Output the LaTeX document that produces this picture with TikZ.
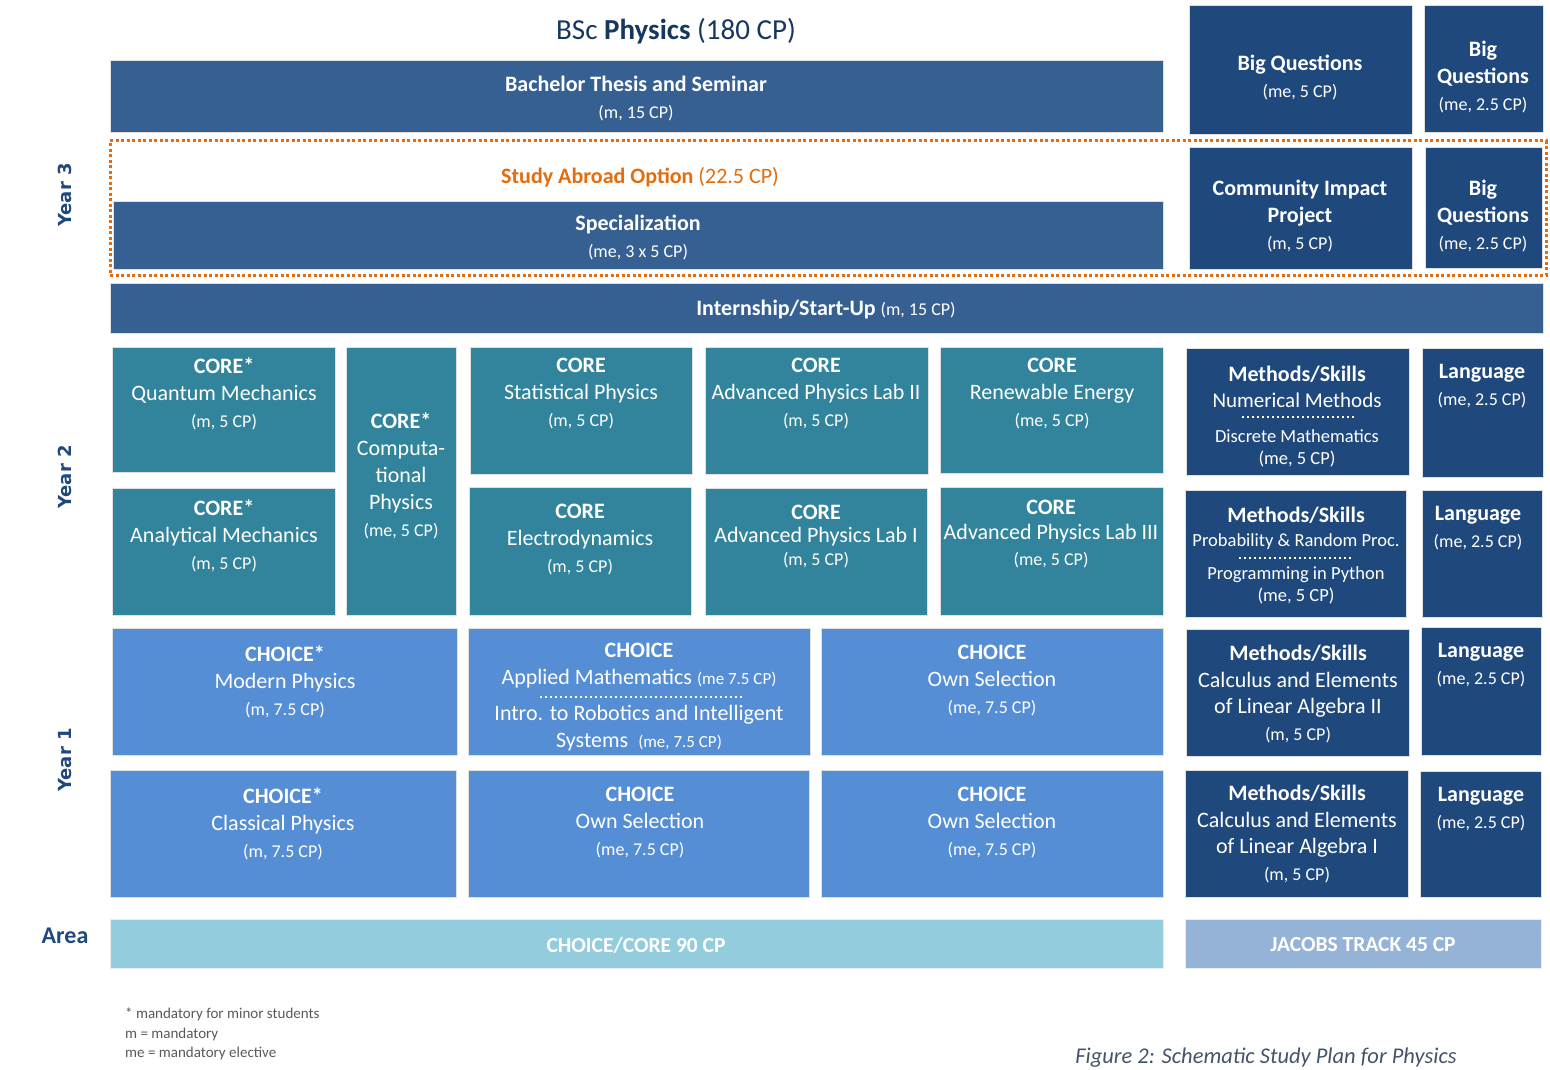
\documentclass[tikz,border=0pt]{standalone}
\usepackage{fontspec}
\setmainfont{Carlito}
\newfontfamily\yearfont{DejaVu Sans}
\usetikzlibrary{positioning}

\definecolor{midblue}{HTML}{376092}
\definecolor{darkblue}{HTML}{1F497D}
\definecolor{coreteal}{HTML}{31849B}
\definecolor{choiceblue}{HTML}{558ED5}
\definecolor{areateal}{HTML}{93CDDD}
\definecolor{areablue}{HTML}{95B3D7}
\definecolor{abroadorange}{HTML}{E46C0A}
\definecolor{titleblue}{HTML}{17375E}
\definecolor{notegray}{HTML}{595959}
\definecolor{captiongray}{HTML}{44546A}

\newcommand{\smallcp}[1]{{\fontsize{18}{27}\selectfont #1}}

\begin{document}
\begin{tikzpicture}
    [
        x=1pt, y=-1pt,
        box/.style = {draw=black!12, line width=1pt, shape=rectangle, inner sep=0pt},
        bluebox/.style = {box, fill=midblue},
        jacobsbox/.style = {box, fill=darkblue},
        corebox/.style = {box, fill=coreteal},
        choicebox/.style = {box, fill=choiceblue},
        txt/.style = {text=white, align=center, inner sep=0pt, font=\fontsize{22}{27}\selectfont},
        sep/.style = {white, line width=2pt, dash pattern=on 2pt off 3pt},
        year/.style = {rotate=90, text=darkblue, font=\yearfont\bfseries\fontsize{18}{22}\selectfont},
    ]

    \useasboundingbox (0,0) rectangle (1550,1070);

    \node[text=titleblue, font=\fontsize{29}{34}\selectfont] (title) at (676,31) {BSc \textbf{Physics} (180 CP)};

    % year labels
    \node[year] (y3) at (65,195) {Year 3};
    \node[year] (y2) at (65,477) {Year 2};
    \node[year] (y1) at (65,760) {Year 1};
    \node[text=darkblue, font=\bfseries\fontsize{24}{28}\selectfont] (area) at (65,936) {Area};

    % year 3
    \node[bluebox, minimum width=1053pt, minimum height=72pt] (thesis) at (636.5,97) {};
    \node[jacobsbox, minimum width=223pt, minimum height=129pt] (bqa) at (1300.5,70.5) {};
    \node[jacobsbox, minimum width=119pt, minimum height=127pt] (bqb) at (1483.5,69.5) {};
    \node[draw=abroadorange, line width=3pt, dash pattern=on 3pt off 2.5pt, minimum width=1436pt, minimum height=134pt] (abroad) at (828,208) {};
    \node[bluebox, minimum width=1050pt, minimum height=68pt] (spec) at (638,235) {};
    \node[jacobsbox, minimum width=223pt, minimum height=121pt] (cip) at (1300.5,208.5) {};
    \node[jacobsbox, minimum width=117pt, minimum height=120pt] (bqc) at (1483.5,208) {};
    \node[bluebox, minimum width=1433pt, minimum height=50pt] (intern) at (826.5,308) {};

    \node[txt] (thesist) at (636,99) {\textbf{Bachelor Thesis and Seminar}\\\smallcp{(m, 15 CP)}};
    \node[txt] (bqat) at (1300,78) {\textbf{Big Questions}\\\smallcp{(me, 5 CP)}};
    \node[txt] (bqbt) at (1483,77) {\textbf{Big}\\\textbf{Questions}\\\smallcp{(me, 2.5 CP)}};
    \node[txt, text=abroadorange] (abroadt) at (640,177) {\textbf{Study Abroad Option} (22.5 CP)};
    \node[txt] (spect) at (638,237.5) {\textbf{Specialization}\\\smallcp{(me, 3 x 5 CP)}};
    \node[txt] (cipt) at (1300,216) {\textbf{Community Impact}\\\textbf{Project}\\\smallcp{(m, 5 CP)}};
    \node[txt] (bqct) at (1483,216) {\textbf{Big}\\\textbf{Questions}\\\smallcp{(me, 2.5 CP)}};
    \node[txt] (interntt) at (826,310) {\textbf{Internship/Start-Up} \smallcp{(m, 15 CP)}};

    % year 2
    \node[corebox, minimum width=223pt, minimum height=125pt] (qm) at (223.5,409.5) {};
    \node[corebox, minimum width=223pt, minimum height=127pt] (am) at (223.5,551.5) {};
    \node[corebox, minimum width=110pt, minimum height=268pt] (comp) at (401,481) {};
    \node[corebox, minimum width=222pt, minimum height=127pt] (stat) at (581,410.5) {};
    \node[corebox, minimum width=222pt, minimum height=128pt] (edyn) at (580,551) {};
    \node[corebox, minimum width=223pt, minimum height=127pt] (lab2) at (816.5,410.5) {};
    \node[corebox, minimum width=222pt, minimum height=127pt] (lab1) at (816,551.5) {};
    \node[corebox, minimum width=223pt, minimum height=126pt] (renew) at (1051.5,410) {};
    \node[corebox, minimum width=223pt, minimum height=128pt] (lab3) at (1051.5,551) {};
    \node[jacobsbox, minimum width=223pt, minimum height=127pt] (ms2a) at (1297.5,411.5) {};
    \node[jacobsbox, minimum width=121pt, minimum height=129pt] (lang2a) at (1482.5,412.5) {};
    \node[jacobsbox, minimum width=221pt, minimum height=127pt] (ms2b) at (1295.5,553.5) {};
    \node[jacobsbox, minimum width=120pt, minimum height=127pt] (lang2b) at (1482,553.5) {};

    \node[txt] (qmt) at (224,394) {\textbf{CORE*}\\Quantum Mechanics\\\smallcp{(m, 5 CP)}};
    \node[txt] (amt) at (224,536) {\textbf{CORE*}\\Analytical Mechanics\\\smallcp{(m, 5 CP)}};
    \node[txt] (compt) at (401,476) {\textbf{CORE*}\\Computa-\\tional\\Physics\\\smallcp{(me, 5 CP)}};
    \node[txt] (statt) at (581,394) {\textbf{CORE}\\Statistical Physics\\\smallcp{(m, 5 CP)}};
    \node[txt] (edynt) at (580,540) {\textbf{CORE}\\Electrodynamics\\\smallcp{(m, 5 CP)}};
    \node[txt] (lab2t) at (816,394) {\textbf{CORE}\\Advanced Physics Lab II\\\smallcp{(m, 5 CP)}};
    \node[txt, font=\fontsize{22}{23}\selectfont] (lab1t) at (816,537) {\textbf{CORE}\\Advanced Physics Lab I\\\smallcp{(m, 5 CP)}};
    \node[txt] (renewt) at (1052,394) {\textbf{CORE}\\Renewable Energy\\\smallcp{(me, 5 CP)}};
    \node[txt, font=\fontsize{22}{25.5}\selectfont] (lab3t) at (1051,534) {\textbf{CORE}\\Advanced Physics Lab III\\\smallcp{(me, 5 CP)}};

    \node[txt, font=\fontsize{21}{26}\selectfont] (ms2aup) at (1297,387) {{\fontsize{22}{26}\selectfont\textbf{Methods/Skills}}\\Numerical Methods};
    \draw[sep] (1242,417) -- (1356,417);
    \node[txt, font=\fontsize{18.5}{22}\selectfont] (ms2alo) at (1297,448) {Discrete Mathematics\\(me, 5 CP)};
    \node[txt] (lang2at) at (1482,386) {\textbf{Language}\\\smallcp{(me, 2.5 CP)}};

    \node[txt, font=\fontsize{18.5}{24}\selectfont] (ms2bup) at (1296,528) {{\fontsize{22}{24}\selectfont\textbf{Methods/Skills}}\\Probability \& Random Proc.};
    \draw[sep] (1239,558) -- (1353,558);
    \node[txt, font=\fontsize{18.5}{22}\selectfont] (ms2blo) at (1296,585) {Programming in Python\\(me, 5 CP)};
    \node[txt] (lang2bt) at (1478,528) {\textbf{Language}\\\smallcp{(me, 2.5 CP)}};

    % year 1
    \node[choicebox, minimum width=345pt, minimum height=127pt] (modern) at (284.5,691.5) {};
    \node[choicebox, minimum width=342pt, minimum height=127pt] (applied) at (639,691.5) {};
    \node[choicebox, minimum width=342pt, minimum height=127pt] (own1a) at (992,691.5) {};
    \node[choicebox, minimum width=346pt, minimum height=127pt] (classical) at (283,833.5) {};
    \node[choicebox, minimum width=341pt, minimum height=127pt] (own1b) at (638.5,833.5) {};
    \node[choicebox, minimum width=342pt, minimum height=127pt] (own1c) at (992,833.5) {};
    \node[jacobsbox, minimum width=223pt, minimum height=127pt] (ms1a) at (1297.5,692.5) {};
    \node[jacobsbox, minimum width=120pt, minimum height=128pt] (lang1a) at (1481,691) {};
    \node[jacobsbox, minimum width=223pt, minimum height=127pt] (ms1b) at (1296.5,833.5) {};
    \node[jacobsbox, minimum width=121pt, minimum height=126pt] (lang1b) at (1480.5,834) {};

    \node[txt] (modernt) at (285,682) {\textbf{CHOICE*}\\Modern Physics\\\smallcp{(m, 7.5 CP)}};
    \node[txt] (appliedup) at (639,666) {\textbf{CHOICE}\\Applied Mathematics {\fontsize{17}{27}\selectfont(me 7.5 CP)}};
    \draw[sep] (540,697) -- (743,697);
    \node[txt] (appliedlo) at (639,728) {Intro. to Robotics and Intelligent\\Systems\ \ {\fontsize{17}{27}\selectfont(me, 7.5 CP)}};
    \node[txt] (own1at) at (992,681) {\textbf{CHOICE}\\Own Selection\\\smallcp{(me, 7.5 CP)}};
    \node[txt] (classicalt) at (283,824) {\textbf{CHOICE*}\\Classical Physics\\\smallcp{(m, 7.5 CP)}};
    \node[txt] (own1bt) at (640,823) {\textbf{CHOICE}\\Own Selection\\\smallcp{(me, 7.5 CP)}};
    \node[txt] (own1ct) at (992,823) {\textbf{CHOICE}\\Own Selection\\\smallcp{(me, 7.5 CP)}};
    \node[txt, font=\fontsize{22}{26.5}\selectfont] (ms1at) at (1298,694) {\textbf{Methods/Skills}\\Calculus and Elements\\of Linear Algebra II\\\smallcp{(m, 5 CP)}};
    \node[txt] (lang1at) at (1481,665) {\textbf{Language}\\\smallcp{(me, 2.5 CP)}};
    \node[txt, font=\fontsize{22}{26.5}\selectfont] (ms1bt) at (1297,834) {\textbf{Methods/Skills}\\Calculus and Elements\\of Linear Algebra I\\\smallcp{(m, 5 CP)}};
    \node[txt] (lang1bt) at (1481,809) {\textbf{Language}\\\smallcp{(me, 2.5 CP)}};

    % area
    \node[box, draw=black!8, fill=areateal, minimum width=1053pt, minimum height=49pt] (area1) at (636.5,943.5) {};
    \node[box, draw=black!8, fill=areablue, minimum width=356pt, minimum height=49pt] (area2) at (1363,943.5) {};
    \node[txt, font=\bfseries\fontsize{21.5}{24}\selectfont] (area1t) at (636,945) {CHOICE/CORE 90 CP};
    \node[txt, font=\bfseries\fontsize{21.5}{24}\selectfont] (area2t) at (1363,945) {JACOBS TRACK 45 CP};

    % notes
    \node[anchor=north west, align=left, inner sep=0pt, text=notegray, font=\fontsize{15}{19.5}\selectfont] (notes) at (125,1008) {* mandatory for minor students\\m = mandatory\\me = mandatory elective};
    \node[anchor=base, inner sep=0pt, text=captiongray, font=\itshape\fontsize{22.5}{26}\selectfont] (caption) at (1266,1063) {Figure 2: Schematic Study Plan for Physics};
\end{tikzpicture}
\end{document}
